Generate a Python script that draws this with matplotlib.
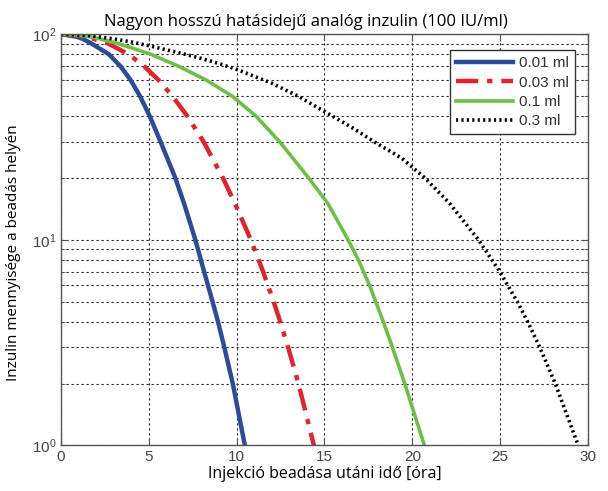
import matplotlib.pyplot as plt
from matplotlib.ticker import LogLocator, NullFormatter

# Adatok (idő [óra], inzulin mennyiség)
t_001 = [0, 0.9, 1.3, 1.75, 2.72, 3.38, 3.96, 4.5, 5.05, 5.67, 6.51, 7.01, 7.65, 8.15, 8.63, 8.94, 9.30, 9.78, 10.47]
y_001 = [100, 97.3, 94.4, 90, 80, 70, 60, 50, 40, 30, 20, 15, 10, 7, 5, 4, 3, 2, 1]

t_003 = [0, 1.0, 1.8, 2.7, 3.84, 4.73, 5.54, 6.35, 7.19, 8.12, 9.22, 9.91, 10.81, 11.51, 12.11, 12.48, 12.93, 13.52, 14.4]
y_003 = [100, 98.6, 95.4, 90, 80, 70, 60, 50, 40, 30, 20, 15, 10, 7, 5, 4, 3, 2, 1]

t_01 = [0, 1.0, 1.9, 3.27, 5.1, 6.68, 8.25, 9.75, 11.1, 12.45, 14.1, 15.2, 16.35, 16.93, 17.57, 18.35, 18.87, 19.57, 20.69]
y_01 = [100, 99, 96.5, 90, 80, 70, 60, 50, 40, 30, 20, 15, 10, 8, 6, 4, 3, 2, 1]

t_03 = [0, 1.5, 3, 4, 5, 6, 7, 8, 9, 10, 11, 12, 13.5, 15.45, 16.61, 17.83, 19.39, 20.72,
        22.14, 23.77, 24.98, 25.98, 26.57, 27.26, 28.14, 29.45]
y_03 = [100, 98.8, 95, 91.8, 88, 84, 80.2, 76.2, 72, 67.5, 62.5, 57.8, 50, 40, 35, 30, 25, 20,
        15, 10, 7, 5, 4, 3, 2, 1]

labels = ['0.01 ml', '0.03 ml', '0.1 ml', '0.3 ml']

fig = plt.figure(figsize=(6.08, 4.91), dpi=100)
ax = fig.add_axes([0.1003, 0.0927, 0.8667, 0.8375])

ax.plot(t_001, y_001, color='#2d4b9b', lw=3.2, label=labels[0])
ax.plot(t_003, y_003, color='#e2232b', lw=3.2, dashes=(5, 2, 1.2, 2), label=labels[1])
ax.plot(t_01, y_01, color='#6dbf45', lw=2.6, label=labels[2])
ax.plot(t_03, y_03, color='black', lw=2.6, linestyle=(0, (0.6, 0.9)), label=labels[3])

ax.set_yscale('log')
ax.set_xlim(0, 30)
ax.set_ylim(1, 100)
ax.set_xticks([0, 5, 10, 15, 20, 25, 30])
ax.yaxis.set_major_locator(LogLocator(base=10, numticks=5))
ax.yaxis.set_minor_locator(LogLocator(base=10, subs=range(2, 10), numticks=20))
ax.yaxis.set_minor_formatter(NullFormatter())

ax.grid(True, which='major', axis='both', color='#222222', linestyle=(0, (2, 2.5)), lw=0.8)
ax.grid(True, which='minor', axis='y', color='#222222', linestyle=(0, (2, 2.5)), lw=0.8)

ax.tick_params(which='both', direction='in', top=True, right=True, colors='#555555',
               labelcolor='#444444', labelsize=11)
ax.tick_params(which='major', length=5)
ax.tick_params(which='minor', length=3)
for lab in ax.get_xticklabels() + ax.get_yticklabels():
    lab.set_family('Liberation Sans')
for s in ax.spines.values():
    s.set_color('#555555')
    s.set_linewidth(1.0)

ax.set_title('Nagyon hosszú hatásidejű analóg inzulin (100 IU/ml)', family='Open Sans',
             fontsize=12, pad=6, x=0.465)
ax.set_xlabel('Injekció beadása utáni idő [óra]', family='Open Sans', fontsize=11.5, labelpad=1)
ax.set_ylabel('Inzulin mennyisége a beadás helyén', family='Open Sans', fontsize=11)
ax.yaxis.set_label_coords(-0.075, 0.468)

leg = ax.legend(loc='upper right', bbox_to_anchor=(0.99, 0.98), fancybox=False, framealpha=1,
                edgecolor='#333333', prop={'family': 'Liberation Sans', 'size': 11},
                handlelength=3.7, handletextpad=0.4, labelspacing=0.35, borderpad=0.4)
leg.get_frame().set_linewidth(1.0)
for txt in leg.get_texts():
    txt.set_color('#333333')

fig.savefig('out.png', dpi=100)
